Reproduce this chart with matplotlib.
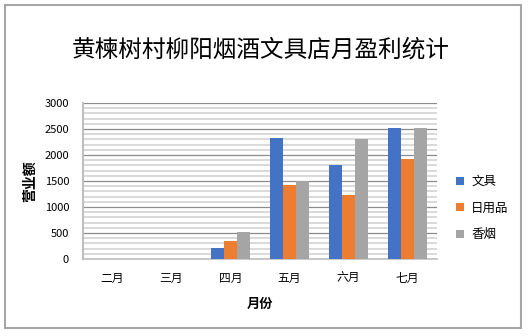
import matplotlib
matplotlib.use("Agg")
import matplotlib.pyplot as plt
from matplotlib.patches import Rectangle
from matplotlib.ticker import MultipleLocator
import numpy as np

plt.rcParams['font.family'] = ['Noto Sans CJK SC', 'DejaVu Sans']

months = ['二月', '三月', '四月', '五月', '六月', '七月']
series_names = ['文具', '日用品', '香烟']
stationery = [0, 0, 220, 2330, 1810, 2520]
daily_goods = [0, 0, 350, 1420, 1240, 1920]
cigarettes = [0, 0, 520, 1500, 2310, 2520]
colors = ['#4472C4', '#ED7D31', '#A5A5A5']

fig = plt.figure(figsize=(5.29, 3.36), dpi=100)
fig.patch.set_facecolor('white')

# outer chart border
fig.patches.append(Rectangle((5 / 529, 8 / 336), 516 / 529, 323 / 336,
                             transform=fig.transFigure, fill=False,
                             edgecolor='#a6a6a6', linewidth=1.5))

ax = fig.add_axes([83 / 529, 77 / 336, 354 / 529, 156 / 336])

x = np.arange(len(months))
w = 0.217
for i, (vals, name, c) in enumerate(zip([stationery, daily_goods, cigarettes],
                                        series_names, colors)):
    ax.bar(x + (i - 1) * w, vals, width=w, color=c, label=name, zorder=3)

ax.set_xlim(-0.5, len(months) - 0.5)
ax.set_ylim(0, 3000)
ax.yaxis.set_major_locator(MultipleLocator(500))
ax.yaxis.set_minor_locator(MultipleLocator(100))
ax.grid(axis='y', which='minor', color='#d9d9d9', linewidth=1.4, zorder=1)
ax.grid(axis='y', which='major', color='#8c8c8c', linewidth=0.9, zorder=2)
ax.set_axisbelow(True)

for s in ['top', 'right']:
    ax.spines[s].set_visible(False)
ax.spines['left'].set_color('#bfbfbf')
ax.spines['left'].set_linewidth(1.5)
ax.spines['bottom'].set_color('#bfbfbf')
ax.spines['bottom'].set_linewidth(1.2)

ax.set_xticks(x)
ax.set_xticklabels(months, fontsize=8.5)
ax.tick_params(axis='x', length=0, pad=9)
ax.tick_params(axis='y', which='both', length=0, pad=10, labelsize=8)

ax.set_xlabel('月份', fontsize=9.5, fontweight='bold', labelpad=9)
ax.set_ylabel('营业额', fontsize=10, fontweight='bold', labelpad=5)

fig.text(261 / 529, 1 - 50 / 336, '黄楝树村柳阳烟酒文具店月盈利统计',
         ha='center', va='center', fontsize=17)

ax.legend(loc='center left', bbox_to_anchor=(445 / 529, 1 - 208 / 336),
          bbox_transform=fig.transFigure, frameon=False, fontsize=9,
          handlelength=0.6, handleheight=0.6, handletextpad=0.6,
          labelspacing=1.08)

fig.savefig('out.png', dpi=100, facecolor='white')
